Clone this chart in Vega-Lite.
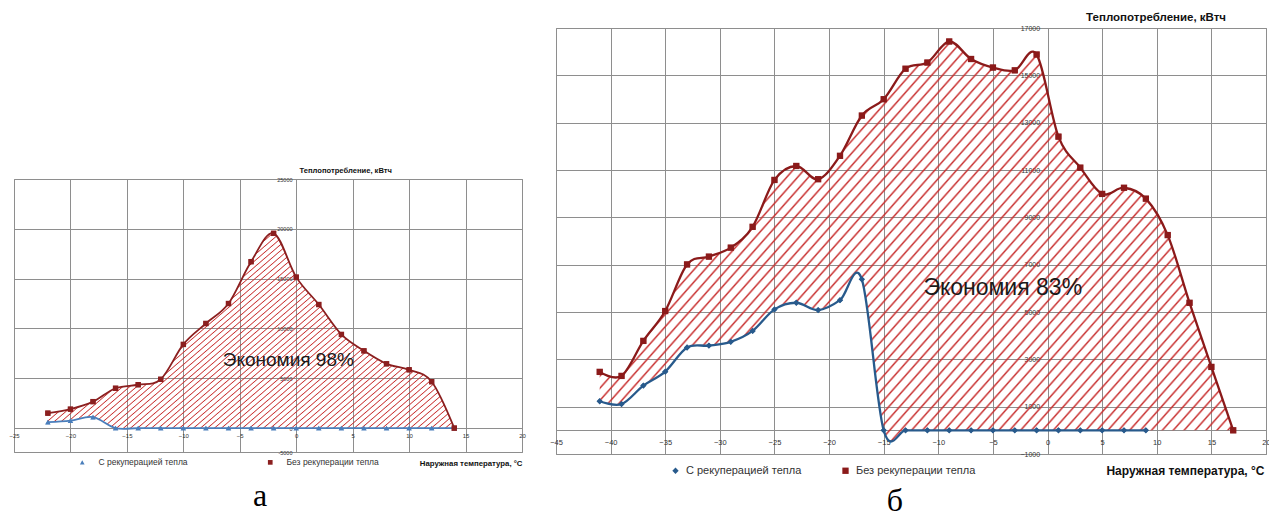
{
"$schema": "https://vega.github.io/schema/vega-lite/v6.json",
"padding": {"left": 8, "top": 10, "right": 0, "bottom": 0},
"background": "white",
"config": {
 "view": {"stroke": "#8a8a8a", "strokeWidth": 1},
 "axis": {"domain": false, "ticks": false, "gridColor": "#8e8e8e", "gridOpacity": 1, "gridWidth": 1, "labelColor": "#333333", "labelFont": "Liberation Sans", "titleFont": "Liberation Sans", "titleColor": "#111111", "labelFlush": false, "labelOverlap": false},
 "legend": {"labelFont": "Liberation Sans", "labelColor": "#333333"},
 "title": {"font": "Liberation Serif", "fontWeight": "normal", "color": "#000000"},
 "area": {"fillOpacity": 1, "fill": {"gradient": "linear", "x1": 0, "y1": 0, "x2": 1.18, "y2": 0.66, "stops": [
{"offset":0,"color":"rgba(200,40,40,0)"},{"offset":0.002,"color":"#c83232"},{"offset":0.004,"color":"rgba(200,40,40,0)"},
{"offset":0.0111,"color":"rgba(200,40,40,0)"},{"offset":0.0131,"color":"#c83232"},{"offset":0.0151,"color":"rgba(200,40,40,0)"},
{"offset":0.0222,"color":"rgba(200,40,40,0)"},{"offset":0.0242,"color":"#c83232"},{"offset":0.0262,"color":"rgba(200,40,40,0)"},
{"offset":0.0333,"color":"rgba(200,40,40,0)"},{"offset":0.0353,"color":"#c83232"},{"offset":0.0373,"color":"rgba(200,40,40,0)"},
{"offset":0.0444,"color":"rgba(200,40,40,0)"},{"offset":0.0464,"color":"#c83232"},{"offset":0.0484,"color":"rgba(200,40,40,0)"},
{"offset":0.0556,"color":"rgba(200,40,40,0)"},{"offset":0.0576,"color":"#c83232"},{"offset":0.0596,"color":"rgba(200,40,40,0)"},
{"offset":0.0667,"color":"rgba(200,40,40,0)"},{"offset":0.0687,"color":"#c83232"},{"offset":0.0707,"color":"rgba(200,40,40,0)"},
{"offset":0.0778,"color":"rgba(200,40,40,0)"},{"offset":0.0798,"color":"#c83232"},{"offset":0.0818,"color":"rgba(200,40,40,0)"},
{"offset":0.0889,"color":"rgba(200,40,40,0)"},{"offset":0.0909,"color":"#c83232"},{"offset":0.0929,"color":"rgba(200,40,40,0)"},
{"offset":0.1,"color":"rgba(200,40,40,0)"},{"offset":0.102,"color":"#c83232"},{"offset":0.104,"color":"rgba(200,40,40,0)"},
{"offset":0.1111,"color":"rgba(200,40,40,0)"},{"offset":0.1131,"color":"#c83232"},{"offset":0.1151,"color":"rgba(200,40,40,0)"},
{"offset":0.1222,"color":"rgba(200,40,40,0)"},{"offset":0.1242,"color":"#c83232"},{"offset":0.1262,"color":"rgba(200,40,40,0)"},
{"offset":0.1333,"color":"rgba(200,40,40,0)"},{"offset":0.1353,"color":"#c83232"},{"offset":0.1373,"color":"rgba(200,40,40,0)"},
{"offset":0.1444,"color":"rgba(200,40,40,0)"},{"offset":0.1464,"color":"#c83232"},{"offset":0.1484,"color":"rgba(200,40,40,0)"},
{"offset":0.1556,"color":"rgba(200,40,40,0)"},{"offset":0.1576,"color":"#c83232"},{"offset":0.1596,"color":"rgba(200,40,40,0)"},
{"offset":0.1667,"color":"rgba(200,40,40,0)"},{"offset":0.1687,"color":"#c83232"},{"offset":0.1707,"color":"rgba(200,40,40,0)"},
{"offset":0.1778,"color":"rgba(200,40,40,0)"},{"offset":0.1798,"color":"#c83232"},{"offset":0.1818,"color":"rgba(200,40,40,0)"},
{"offset":0.1889,"color":"rgba(200,40,40,0)"},{"offset":0.1909,"color":"#c83232"},{"offset":0.1929,"color":"rgba(200,40,40,0)"},
{"offset":0.2,"color":"rgba(200,40,40,0)"},{"offset":0.202,"color":"#c83232"},{"offset":0.204,"color":"rgba(200,40,40,0)"},
{"offset":0.2111,"color":"rgba(200,40,40,0)"},{"offset":0.2131,"color":"#c83232"},{"offset":0.2151,"color":"rgba(200,40,40,0)"},
{"offset":0.2222,"color":"rgba(200,40,40,0)"},{"offset":0.2242,"color":"#c83232"},{"offset":0.2262,"color":"rgba(200,40,40,0)"},
{"offset":0.2333,"color":"rgba(200,40,40,0)"},{"offset":0.2353,"color":"#c83232"},{"offset":0.2373,"color":"rgba(200,40,40,0)"},
{"offset":0.2444,"color":"rgba(200,40,40,0)"},{"offset":0.2464,"color":"#c83232"},{"offset":0.2484,"color":"rgba(200,40,40,0)"},
{"offset":0.2556,"color":"rgba(200,40,40,0)"},{"offset":0.2576,"color":"#c83232"},{"offset":0.2596,"color":"rgba(200,40,40,0)"},
{"offset":0.2667,"color":"rgba(200,40,40,0)"},{"offset":0.2687,"color":"#c83232"},{"offset":0.2707,"color":"rgba(200,40,40,0)"},
{"offset":0.2778,"color":"rgba(200,40,40,0)"},{"offset":0.2798,"color":"#c83232"},{"offset":0.2818,"color":"rgba(200,40,40,0)"},
{"offset":0.2889,"color":"rgba(200,40,40,0)"},{"offset":0.2909,"color":"#c83232"},{"offset":0.2929,"color":"rgba(200,40,40,0)"},
{"offset":0.3,"color":"rgba(200,40,40,0)"},{"offset":0.302,"color":"#c83232"},{"offset":0.304,"color":"rgba(200,40,40,0)"},
{"offset":0.3111,"color":"rgba(200,40,40,0)"},{"offset":0.3131,"color":"#c83232"},{"offset":0.3151,"color":"rgba(200,40,40,0)"},
{"offset":0.3222,"color":"rgba(200,40,40,0)"},{"offset":0.3242,"color":"#c83232"},{"offset":0.3262,"color":"rgba(200,40,40,0)"},
{"offset":0.3333,"color":"rgba(200,40,40,0)"},{"offset":0.3353,"color":"#c83232"},{"offset":0.3373,"color":"rgba(200,40,40,0)"},
{"offset":0.3444,"color":"rgba(200,40,40,0)"},{"offset":0.3464,"color":"#c83232"},{"offset":0.3484,"color":"rgba(200,40,40,0)"},
{"offset":0.3556,"color":"rgba(200,40,40,0)"},{"offset":0.3576,"color":"#c83232"},{"offset":0.3596,"color":"rgba(200,40,40,0)"},
{"offset":0.3667,"color":"rgba(200,40,40,0)"},{"offset":0.3687,"color":"#c83232"},{"offset":0.3707,"color":"rgba(200,40,40,0)"},
{"offset":0.3778,"color":"rgba(200,40,40,0)"},{"offset":0.3798,"color":"#c83232"},{"offset":0.3818,"color":"rgba(200,40,40,0)"},
{"offset":0.3889,"color":"rgba(200,40,40,0)"},{"offset":0.3909,"color":"#c83232"},{"offset":0.3929,"color":"rgba(200,40,40,0)"},
{"offset":0.4,"color":"rgba(200,40,40,0)"},{"offset":0.402,"color":"#c83232"},{"offset":0.404,"color":"rgba(200,40,40,0)"},
{"offset":0.4111,"color":"rgba(200,40,40,0)"},{"offset":0.4131,"color":"#c83232"},{"offset":0.4151,"color":"rgba(200,40,40,0)"},
{"offset":0.4222,"color":"rgba(200,40,40,0)"},{"offset":0.4242,"color":"#c83232"},{"offset":0.4262,"color":"rgba(200,40,40,0)"},
{"offset":0.4333,"color":"rgba(200,40,40,0)"},{"offset":0.4353,"color":"#c83232"},{"offset":0.4373,"color":"rgba(200,40,40,0)"},
{"offset":0.4444,"color":"rgba(200,40,40,0)"},{"offset":0.4464,"color":"#c83232"},{"offset":0.4484,"color":"rgba(200,40,40,0)"},
{"offset":0.4556,"color":"rgba(200,40,40,0)"},{"offset":0.4576,"color":"#c83232"},{"offset":0.4596,"color":"rgba(200,40,40,0)"},
{"offset":0.4667,"color":"rgba(200,40,40,0)"},{"offset":0.4687,"color":"#c83232"},{"offset":0.4707,"color":"rgba(200,40,40,0)"},
{"offset":0.4778,"color":"rgba(200,40,40,0)"},{"offset":0.4798,"color":"#c83232"},{"offset":0.4818,"color":"rgba(200,40,40,0)"},
{"offset":0.4889,"color":"rgba(200,40,40,0)"},{"offset":0.4909,"color":"#c83232"},{"offset":0.4929,"color":"rgba(200,40,40,0)"},
{"offset":0.5,"color":"rgba(200,40,40,0)"},{"offset":0.502,"color":"#c83232"},{"offset":0.504,"color":"rgba(200,40,40,0)"},
{"offset":0.5111,"color":"rgba(200,40,40,0)"},{"offset":0.5131,"color":"#c83232"},{"offset":0.5151,"color":"rgba(200,40,40,0)"},
{"offset":0.5222,"color":"rgba(200,40,40,0)"},{"offset":0.5242,"color":"#c83232"},{"offset":0.5262,"color":"rgba(200,40,40,0)"},
{"offset":0.5333,"color":"rgba(200,40,40,0)"},{"offset":0.5353,"color":"#c83232"},{"offset":0.5373,"color":"rgba(200,40,40,0)"},
{"offset":0.5444,"color":"rgba(200,40,40,0)"},{"offset":0.5464,"color":"#c83232"},{"offset":0.5484,"color":"rgba(200,40,40,0)"},
{"offset":0.5556,"color":"rgba(200,40,40,0)"},{"offset":0.5576,"color":"#c83232"},{"offset":0.5596,"color":"rgba(200,40,40,0)"},
{"offset":0.5667,"color":"rgba(200,40,40,0)"},{"offset":0.5687,"color":"#c83232"},{"offset":0.5707,"color":"rgba(200,40,40,0)"},
{"offset":0.5778,"color":"rgba(200,40,40,0)"},{"offset":0.5798,"color":"#c83232"},{"offset":0.5818,"color":"rgba(200,40,40,0)"},
{"offset":0.5889,"color":"rgba(200,40,40,0)"},{"offset":0.5909,"color":"#c83232"},{"offset":0.5929,"color":"rgba(200,40,40,0)"},
{"offset":0.6,"color":"rgba(200,40,40,0)"},{"offset":0.602,"color":"#c83232"},{"offset":0.604,"color":"rgba(200,40,40,0)"},
{"offset":0.6111,"color":"rgba(200,40,40,0)"},{"offset":0.6131,"color":"#c83232"},{"offset":0.6151,"color":"rgba(200,40,40,0)"},
{"offset":0.6222,"color":"rgba(200,40,40,0)"},{"offset":0.6242,"color":"#c83232"},{"offset":0.6262,"color":"rgba(200,40,40,0)"},
{"offset":0.6333,"color":"rgba(200,40,40,0)"},{"offset":0.6353,"color":"#c83232"},{"offset":0.6373,"color":"rgba(200,40,40,0)"},
{"offset":0.6444,"color":"rgba(200,40,40,0)"},{"offset":0.6464,"color":"#c83232"},{"offset":0.6484,"color":"rgba(200,40,40,0)"},
{"offset":0.6556,"color":"rgba(200,40,40,0)"},{"offset":0.6576,"color":"#c83232"},{"offset":0.6596,"color":"rgba(200,40,40,0)"},
{"offset":0.6667,"color":"rgba(200,40,40,0)"},{"offset":0.6687,"color":"#c83232"},{"offset":0.6707,"color":"rgba(200,40,40,0)"},
{"offset":0.6778,"color":"rgba(200,40,40,0)"},{"offset":0.6798,"color":"#c83232"},{"offset":0.6818,"color":"rgba(200,40,40,0)"},
{"offset":0.6889,"color":"rgba(200,40,40,0)"},{"offset":0.6909,"color":"#c83232"},{"offset":0.6929,"color":"rgba(200,40,40,0)"},
{"offset":0.7,"color":"rgba(200,40,40,0)"},{"offset":0.702,"color":"#c83232"},{"offset":0.704,"color":"rgba(200,40,40,0)"},
{"offset":0.7111,"color":"rgba(200,40,40,0)"},{"offset":0.7131,"color":"#c83232"},{"offset":0.7151,"color":"rgba(200,40,40,0)"},
{"offset":0.7222,"color":"rgba(200,40,40,0)"},{"offset":0.7242,"color":"#c83232"},{"offset":0.7262,"color":"rgba(200,40,40,0)"},
{"offset":0.7333,"color":"rgba(200,40,40,0)"},{"offset":0.7353,"color":"#c83232"},{"offset":0.7373,"color":"rgba(200,40,40,0)"},
{"offset":0.7444,"color":"rgba(200,40,40,0)"},{"offset":0.7464,"color":"#c83232"},{"offset":0.7484,"color":"rgba(200,40,40,0)"},
{"offset":0.7556,"color":"rgba(200,40,40,0)"},{"offset":0.7576,"color":"#c83232"},{"offset":0.7596,"color":"rgba(200,40,40,0)"},
{"offset":0.7667,"color":"rgba(200,40,40,0)"},{"offset":0.7687,"color":"#c83232"},{"offset":0.7707,"color":"rgba(200,40,40,0)"},
{"offset":0.7778,"color":"rgba(200,40,40,0)"},{"offset":0.7798,"color":"#c83232"},{"offset":0.7818,"color":"rgba(200,40,40,0)"},
{"offset":0.7889,"color":"rgba(200,40,40,0)"},{"offset":0.7909,"color":"#c83232"},{"offset":0.7929,"color":"rgba(200,40,40,0)"},
{"offset":0.8,"color":"rgba(200,40,40,0)"},{"offset":0.802,"color":"#c83232"},{"offset":0.804,"color":"rgba(200,40,40,0)"},
{"offset":0.8111,"color":"rgba(200,40,40,0)"},{"offset":0.8131,"color":"#c83232"},{"offset":0.8151,"color":"rgba(200,40,40,0)"},
{"offset":0.8222,"color":"rgba(200,40,40,0)"},{"offset":0.8242,"color":"#c83232"},{"offset":0.8262,"color":"rgba(200,40,40,0)"},
{"offset":0.8333,"color":"rgba(200,40,40,0)"},{"offset":0.8353,"color":"#c83232"},{"offset":0.8373,"color":"rgba(200,40,40,0)"},
{"offset":0.8444,"color":"rgba(200,40,40,0)"},{"offset":0.8464,"color":"#c83232"},{"offset":0.8484,"color":"rgba(200,40,40,0)"},
{"offset":0.8556,"color":"rgba(200,40,40,0)"},{"offset":0.8576,"color":"#c83232"},{"offset":0.8596,"color":"rgba(200,40,40,0)"},
{"offset":0.8667,"color":"rgba(200,40,40,0)"},{"offset":0.8687,"color":"#c83232"},{"offset":0.8707,"color":"rgba(200,40,40,0)"},
{"offset":0.8778,"color":"rgba(200,40,40,0)"},{"offset":0.8798,"color":"#c83232"},{"offset":0.8818,"color":"rgba(200,40,40,0)"},
{"offset":0.8889,"color":"rgba(200,40,40,0)"},{"offset":0.8909,"color":"#c83232"},{"offset":0.8929,"color":"rgba(200,40,40,0)"},
{"offset":0.9,"color":"rgba(200,40,40,0)"},{"offset":0.902,"color":"#c83232"},{"offset":0.904,"color":"rgba(200,40,40,0)"},
{"offset":0.9111,"color":"rgba(200,40,40,0)"},{"offset":0.9131,"color":"#c83232"},{"offset":0.9151,"color":"rgba(200,40,40,0)"},
{"offset":0.9222,"color":"rgba(200,40,40,0)"},{"offset":0.9242,"color":"#c83232"},{"offset":0.9262,"color":"rgba(200,40,40,0)"},
{"offset":0.9333,"color":"rgba(200,40,40,0)"},{"offset":0.9353,"color":"#c83232"},{"offset":0.9373,"color":"rgba(200,40,40,0)"},
{"offset":0.9444,"color":"rgba(200,40,40,0)"},{"offset":0.9464,"color":"#c83232"},{"offset":0.9484,"color":"rgba(200,40,40,0)"},
{"offset":0.9556,"color":"rgba(200,40,40,0)"},{"offset":0.9576,"color":"#c83232"},{"offset":0.9596,"color":"rgba(200,40,40,0)"},
{"offset":0.9667,"color":"rgba(200,40,40,0)"},{"offset":0.9687,"color":"#c83232"},{"offset":0.9707,"color":"rgba(200,40,40,0)"},
{"offset":0.9778,"color":"rgba(200,40,40,0)"},{"offset":0.9798,"color":"#c83232"},{"offset":0.9818,"color":"rgba(200,40,40,0)"},
{"offset":0.9889,"color":"rgba(200,40,40,0)"},{"offset":0.9909,"color":"#c83232"},{"offset":0.9929,"color":"rgba(200,40,40,0)"}
 ]}}
},
"datasets": {
 "a": [
  {"t":-22,"С рекуперацией тепла":600,"Без рекуперации тепла":1500},
  {"t":-20,"С рекуперацией тепла":750,"Без рекуперации тепла":1900},
  {"t":-18,"С рекуперацией тепла":1100,"Без рекуперации тепла":2650},
  {"t":-16,"С рекуперацией тепла":0,"Без рекуперации тепла":4000},
  {"t":-14,"С рекуперацией тепла":0,"Без рекуперации тепла":4350},
  {"t":-12,"С рекуперацией тепла":0,"Без рекуперации тепла":4900},
  {"t":-10,"С рекуперацией тепла":0,"Без рекуперации тепла":8400},
  {"t":-8,"С рекуперацией тепла":0,"Без рекуперации тепла":10500},
  {"t":-6,"С рекуперацией тепла":0,"Без рекуперации тепла":12500},
  {"t":-4,"С рекуперацией тепла":0,"Без рекуперации тепла":16700},
  {"t":-2,"С рекуперацией тепла":0,"Без рекуперации тепла":19550},
  {"t":0,"С рекуперацией тепла":0,"Без рекуперации тепла":15150},
  {"t":2,"С рекуперацией тепла":0,"Без рекуперации тепла":12400},
  {"t":4,"С рекуперацией тепла":0,"Без рекуперации тепла":9400},
  {"t":6,"С рекуперацией тепла":0,"Без рекуперации тепла":7750},
  {"t":8,"С рекуперацией тепла":0,"Без рекуперации тепла":6450},
  {"t":10,"С рекуперацией тепла":0,"Без рекуперации тепла":5850},
  {"t":12,"С рекуперацией тепла":0,"Без рекуперации тепла":4650},
  {"t":14,"С рекуперацией тепла":0,"Без рекуперации тепла":0}
 ],
 "b": [
  {"t":-41,"С рекуперацией тепла":1230,"Без рекуперации тепла":2470,"низ штриховки":1230},
  {"t":-39,"С рекуперацией тепла":1110,"Без рекуперации тепла":2300,"низ штриховки":1110},
  {"t":-37,"С рекуперацией тепла":1890,"Без рекуперации тепла":3780,"низ штриховки":1890},
  {"t":-35,"С рекуперацией тепла":2480,"Без рекуперации тепла":5040,"низ штриховки":2480},
  {"t":-33,"С рекуперацией тепла":3500,"Без рекуперации тепла":7010,"низ штриховки":3500},
  {"t":-31,"С рекуперацией тепла":3580,"Без рекуперации тепла":7340,"низ штриховки":3580},
  {"t":-29,"С рекуперацией тепла":3740,"Без рекуперации тепла":7720,"низ штриховки":3740},
  {"t":-27,"С рекуперацией тепла":4200,"Без рекуперации тепла":8600,"низ штриховки":4200},
  {"t":-25,"С рекуперацией тепла":5110,"Без рекуперации тепла":10580,"низ штриховки":5110},
  {"t":-23,"С рекуперацией тепла":5390,"Без рекуперации тепла":11170,"низ штриховки":5390},
  {"t":-21,"С рекуперацией тепла":5080,"Без рекуперации тепла":10610,"низ штриховки":5080},
  {"t":-19,"С рекуперацией тепла":5500,"Без рекуперации тепла":11600,"низ штриховки":5500},
  {"t":-17,"С рекуперацией тепла":6380,"Без рекуперации тепла":13300,"низ штриховки":6380},
  {"t":-15,"С рекуперацией тепла":0,"Без рекуперации тепла":13990,"низ штриховки":0},
  {"t":-13,"С рекуперацией тепла":0,"Без рекуперации тепла":15280,"низ штриховки":0},
  {"t":-11,"С рекуперацией тепла":0,"Без рекуперации тепла":15540,"низ штриховки":0},
  {"t":-9,"С рекуперацией тепла":0,"Без рекуперации тепла":16430,"низ штриховки":0},
  {"t":-7,"С рекуперацией тепла":0,"Без рекуперации тепла":15690,"низ штриховки":0},
  {"t":-5,"С рекуперацией тепла":0,"Без рекуперации тепла":15330,"низ штриховки":0},
  {"t":-3,"С рекуперацией тепла":0,"Без рекуперации тепла":15210,"низ штриховки":0},
  {"t":-1,"С рекуперацией тепла":0,"Без рекуперации тепла":15880,"низ штриховки":0},
  {"t":1,"С рекуперацией тепла":0,"Без рекуперации тепла":12410,"низ штриховки":0},
  {"t":3,"С рекуперацией тепла":0,"Без рекуперации тепла":11100,"низ штриховки":0},
  {"t":5,"С рекуперацией тепла":0,"Без рекуперации тепла":9990,"низ штриховки":0},
  {"t":7,"С рекуперацией тепла":0,"Без рекуперации тепла":10250,"низ штриховки":0},
  {"t":9,"С рекуперацией тепла":0,"Без рекуперации тепла":9790,"низ штриховки":0},
  {"t":11,"С рекуперацией тепла":null,"Без рекуперации тепла":8250,"низ штриховки":0},
  {"t":13,"С рекуперацией тепла":null,"Без рекуперации тепла":5390,"низ штриховки":0},
  {"t":15,"С рекуперацией тепла":null,"Без рекуперации тепла":2680,"низ штриховки":0},
  {"t":17,"С рекуперацией тепла":null,"Без рекуперации тепла":0,"низ штриховки":0}
 ]
},
"spacing": 23,
"resolve": {"scale": {"color": "independent", "shape": "independent"}, "legend": {"color": "independent", "shape": "independent"}},
"hconcat": [
 {"spacing": 0, "vconcat": [
  {"width": 508, "height": 137, "view": {"stroke": null}, "data": {"values": []}, "mark": "point"},
  {"width": 508, "height": 273,
   "data": {"name": "a"},
   "title": {"text": "а", "orient": "bottom", "fontSize": 32, "offset": 14, "dx": -8, "anchor": "middle"},
   "layer": [
    {"mark": {"type": "area", "interpolate": "cardinal"},
     "encoding": {
      "x": {"field": "t", "type": "quantitative", "scale": {"domain": [-25, 20], "nice": false, "zero": false},
            "axis": {"values": [-25,-20,-15,-10,-5,0,5,10,15,20], "offset": -24, "grid": true, "labelFontSize": 6, "labelPadding": 4,
                     "title": "Наружная температура, °C", "titleFontSize": 7.8, "titleFontWeight": "bold", "titleX": 508, "titleY": 35, "titleAlign": "right", "titleBaseline": "middle"}},
      "y": {"field": "Без рекуперации тепла", "type": "quantitative", "title": "Теплопотребление, кВтч",
            "scale": {"domain": [-2400, 25000], "nice": false, "zero": false},
            "axis": {"values": [-2400, 0, 5000, 10000, 15000, 20000, 25000], "offset": -282, "grid": true, "format": "d",
                     "labelExpr": "datum.value < 0 ? '-5000' : datum.label", "labelFontSize": 5.5, "labelPadding": 4,
                     "titleAngle": 0, "titleX": 3, "titleY": -9, "titleAlign": "left", "titleBaseline": "middle", "titleFontSize": 7.6, "titleFontWeight": "bold"}},
      "y2": {"field": "С рекуперацией тепла"}
     }},
    {"transform": [{"fold": ["С рекуперацией тепла", "Без рекуперации тепла"], "as": ["ряд", "q"]}],
     "encoding": {
      "x": {"field": "t", "type": "quantitative"},
      "y": {"field": "q", "type": "quantitative", "title": "Теплопотребление, кВтч"},
      "color": {"field": "ряд", "type": "nominal", "scale": {"domain": ["С рекуперацией тепла", "Без рекуперации тепла"], "range": ["#4a7ebb", "#8b1f1f"]},
                "legend": {"title": null, "orient": "none", "legendX": 64, "legendY": 430, "direction": "horizontal", "columnPadding": 78, "labelFontSize": 8.5, "symbolSize": 22, "symbolStrokeWidth": 0, "labelOffset": 12}},
      "shape": {"field": "ряд", "type": "nominal", "scale": {"domain": ["С рекуперацией тепла", "Без рекуперации тепла"], "range": ["triangle-up", "square"]},
                "legend": {"title": null, "orient": "none", "legendX": 64, "legendY": 430, "direction": "horizontal", "columnPadding": 78, "labelFontSize": 8.5, "symbolSize": 22, "symbolStrokeWidth": 0, "labelOffset": 12}}
     },
     "layer": [
      {"mark": {"type": "line", "interpolate": "cardinal", "strokeWidth": 1.8}},
      {"mark": {"type": "point", "filled": true, "opacity": 1, "size": 22}}
     ]},
    {"data": {"values": [{"t": -0.7, "q": 6850, "txt": "Экономия 98%"}]},
     "mark": {"type": "text", "font": "Liberation Sans", "fontSize": 19, "color": "#1a1a1a", "align": "center", "baseline": "middle"},
     "encoding": {"x": {"field": "t", "type": "quantitative"}, "y": {"field": "q", "type": "quantitative", "title": "Теплопотребление, кВтч"}, "text": {"field": "txt"}}}
   ]}
 ]},
 {"width": 710, "height": 426,
  "data": {"name": "b"},
  "title": {"text": "б", "orient": "bottom", "fontSize": 32, "offset": 10, "dx": -16, "anchor": "middle"},
  "layer": [
   {"mark": {"type": "area", "interpolate": "cardinal"},
    "encoding": {
     "x": {"field": "t", "type": "quantitative", "scale": {"domain": [-45, 20], "nice": false, "zero": false},
           "axis": {"values": [-45,-40,-35,-30,-25,-20,-15,-10,-5,0,5,10,15,20], "offset": -24, "grid": true, "labelFontSize": 7.5, "labelPadding": 8,
                    "title": "Наружная температура, °C", "titleFontSize": 12, "titleFontWeight": "bold", "titleX": 708, "titleY": 40, "titleAlign": "right", "titleBaseline": "middle"}},
     "y": {"field": "Без рекуперации тепла", "type": "quantitative", "title": "Теплопотребление, кВтч",
           "scale": {"domain": [-1000, 17000], "nice": false, "zero": false},
           "axis": {"values": [-1000, 0, 1000, 3000, 5000, 7000, 9000, 11000, 13000, 15000, 17000], "offset": -491.6, "grid": true, "format": "d",
                    "labelExpr": "datum.value == 0 ? '' : datum.label", "labelFontSize": 7, "labelPadding": 8,
                    "titleAngle": 0, "titleX": 38, "titleY": -11, "titleAlign": "left", "titleBaseline": "middle", "titleFontSize": 11.5, "titleFontWeight": "bold"}},
     "y2": {"field": "низ штриховки"}
    }},
   {"transform": [{"fold": ["С рекуперацией тепла", "Без рекуперации тепла"], "as": ["ряд", "q"]}],
    "encoding": {
     "x": {"field": "t", "type": "quantitative"},
     "y": {"field": "q", "type": "quantitative", "title": "Теплопотребление, кВтч"},
     "color": {"field": "ряд", "type": "nominal", "scale": {"domain": ["С рекуперацией тепла", "Без рекуперации тепла"], "range": ["#285a8c", "#8b1a1a"]},
               "legend": {"title": null, "orient": "none", "legendX": 114, "legendY": 437, "direction": "horizontal", "columnPadding": 38, "labelFontSize": 11, "symbolSize": 40, "symbolStrokeWidth": 0, "labelOffset": 5}},
     "shape": {"field": "ряд", "type": "nominal", "scale": {"domain": ["С рекуперацией тепла", "Без рекуперации тепла"], "range": ["diamond", "square"]},
               "legend": {"title": null, "orient": "none", "legendX": 114, "legendY": 437, "direction": "horizontal", "columnPadding": 38, "labelFontSize": 11, "symbolSize": 40, "symbolStrokeWidth": 0, "labelOffset": 5}}
    },
    "layer": [
     {"mark": {"type": "line", "interpolate": "cardinal", "strokeWidth": 2.3}},
     {"mark": {"type": "point", "filled": true, "opacity": 1, "size": 40}}
    ]},
   {"data": {"values": [{"t": -4.1, "q": 6000, "txt": "Экономия 83%"}]},
    "mark": {"type": "text", "font": "Liberation Sans", "fontSize": 23, "color": "#1a1a1a", "align": "center", "baseline": "middle"},
    "encoding": {"x": {"field": "t", "type": "quantitative"}, "y": {"field": "q", "type": "quantitative", "title": "Теплопотребление, кВтч"}, "text": {"field": "txt"}}}
  ]}
]
}
